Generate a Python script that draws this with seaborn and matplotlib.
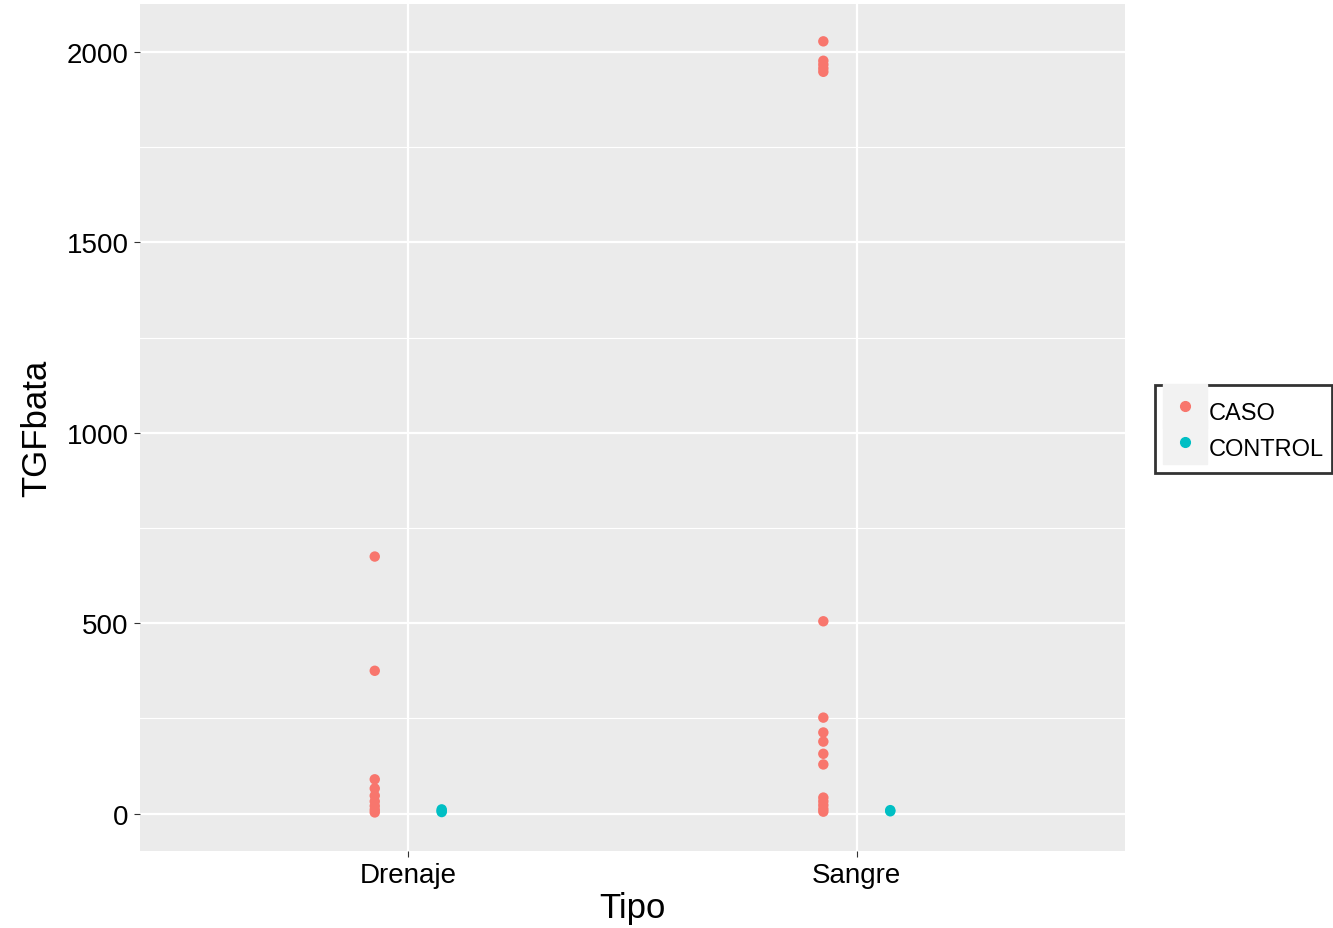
import matplotlib
matplotlib.use("Agg")
import matplotlib.pyplot as plt
import seaborn as sns
import pandas as pd
import numpy as np
from matplotlib.lines import Line2D
from matplotlib.legend_handler import HandlerTuple
from matplotlib.ticker import MultipleLocator

# values
drenaje_caso = [675, 375, 90, 66, 47, 32, 20, 10, 3]
drenaje_control = [11, 7, 4]
sangre_caso = [2028, 1977, 1967, 1957, 1948, 505, 252, 213, 189, 157, 129, 42, 32, 22, 12, 5]
sangre_control = [9, 6]

tipos = ["Drenaje", "Sangre"]
grupos = ["CASO", "CONTROL"]
colores = ["#F8766D", "#00BFC4"]

rows = []
for tipo, grupo, vals in [("Drenaje", "CASO", drenaje_caso),
                          ("Drenaje", "CONTROL", drenaje_control),
                          ("Sangre", "CASO", sangre_caso),
                          ("Sangre", "CONTROL", sangre_control)]:
    for v in vals:
        rows.append({"Tipo": tipo, "Grupo": grupo, "TGFbata": v})
df = pd.DataFrame(rows)

plt.rcParams["font.family"] = ["Liberation Sans", "DejaVu Sans"]

fig = plt.figure(figsize=(13.33, 9.29), dpi=100)
ax = fig.add_axes([0.105, 0.083, 0.739, 0.912])
ax.set_facecolor("#EBEBEB")

sns.stripplot(data=df, x="Tipo", y="TGFbata", hue="Grupo", order=tipos,
              hue_order=grupos, palette=colores, dodge=True, jitter=False,
              size=7.5, linewidth=0, legend=False, ax=ax, zorder=3)

# narrower dodge than seaborn's default
for coll in ax.collections:
    off = coll.get_offsets()
    if len(off):
        base = np.round(off[:, 0])
        off[:, 0] = base + (off[:, 0] - base) * 0.373
        coll.set_offsets(off)

ax.set_xlim(-0.598, 1.598)
ax.set_ylim(-98, 2127)
ax.yaxis.set_major_locator(MultipleLocator(500))
ax.yaxis.set_minor_locator(MultipleLocator(250))
ax.grid(which="major", color="white", linewidth=1.6)
ax.grid(which="minor", axis="y", color="white", linewidth=0.8)
ax.set_axisbelow(True)
for s in ax.spines.values():
    s.set_visible(False)
ax.tick_params(axis="both", which="major", length=4, width=0.8, color="#333333",
               labelsize=20, labelcolor="black", pad=4)
ax.tick_params(axis="y", which="minor", length=0)
ax.set_xlabel("Tipo", fontsize=25, labelpad=2)
ax.set_ylabel("TGFbata", fontsize=25, labelpad=10)

handles = []
for c in colores:
    bg = Line2D([], [], marker="s", markersize=32, color="#F2F2F2", linestyle="none")
    dot = Line2D([], [], marker="o", markersize=7, color=c, linestyle="none")
    handles.append((bg, dot))
leg = fig.legend(handles, grupos, handler_map={tuple: HandlerTuple(ndivide=1)},
                 loc="center right", bbox_to_anchor=(0.999, 0.537), fontsize=17,
                 frameon=True, fancybox=False, edgecolor="black",
                 labelspacing=0.0, handleheight=1.95, handlelength=1.8,
                 handletextpad=0.1, borderpad=0.35, borderaxespad=0)
leg.get_frame().set_linewidth(2)

fig.savefig("out.png", dpi=100)
